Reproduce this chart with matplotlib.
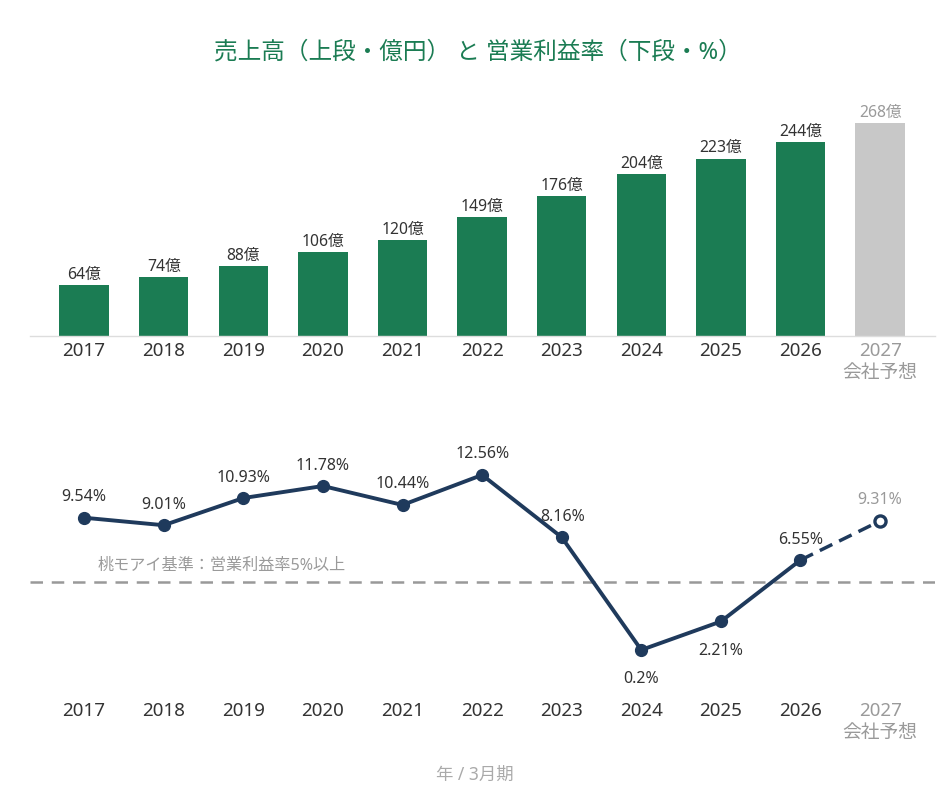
import matplotlib
matplotlib.use("Agg")
import matplotlib.pyplot as plt
import numpy as np

plt.rcParams['font.family'] = ['Noto Sans', 'Noto Sans CJK JP', 'DejaVu Sans']

years = ["2017", "2018", "2019", "2020", "2021", "2022", "2023", "2024", "2025", "2026", "2027"]
forecast_note = "会社予想"
sales = [64, 74, 88, 106, 120, 149, 176, 204, 223, 244, 268]
margin = [9.54, 9.01, 10.93, 11.78, 10.44, 12.56, 8.16, 0.2, 2.21, 6.55, 9.31]
threshold = 5
threshold_label = "桃モアイ基準：営業利益率5%以上"
title = "売上高（上段・億円） と 営業利益率（下段・%）"
xlabel = "年 / 3月期"

GREEN = "#1b7c53"
LGRAY = "#c8c8c8"
NAVY = "#1f3a5c"
TXT = "#333333"
GTXT = "#9a9a9a"

fig = plt.figure(figsize=(9.5, 8), dpi=100)
x = np.arange(len(years))
xlim = (-0.68, len(years) - 1 + 0.69)
L, R = 30 / 950, 935 / 950

# ---- top: bars
ax1 = fig.add_axes([L, 1 - 336 / 800, R - L, (336 - 100) / 800])
colors = [GREEN] * (len(years) - 1) + [LGRAY]
ax1.bar(x, sales, width=0.62, color=colors, zorder=2)
ax1.set_xlim(*xlim)
ax1.set_ylim(0, 296.5)
for i, v in enumerate(sales):
    c = GTXT if i == len(years) - 1 else TXT
    ax1.annotate(f"{v}億", (x[i], v), xytext=(0, 1.5), textcoords="offset points",
                 ha="center", va="bottom", fontsize=11.3, color=c)
for s in ["top", "right", "left"]:
    ax1.spines[s].set_visible(False)
ax1.spines["bottom"].set_color("#dddddd")
ax1.spines["bottom"].set_linewidth(1)
ax1.set_yticks([])
labels = years[:-1] + [years[-1] + "\n" + forecast_note]
ax1.set_xticks(x)
ax1.set_xticklabels(labels, fontsize=13.5, color=TXT, linespacing=1.3)
ax1.get_xticklabels()[-1].set_color(GTXT)
ax1.tick_params(axis="x", length=0, pad=4.5)

# ---- bottom: line
ax2 = fig.add_axes([L, 1 - 690 / 800, R - L, (690 - 440) / 800])
ax2.set_xlim(*xlim)
ax2.set_ylim(-2.63, 15.03)
ax2.axhline(threshold, color="#999999", lw=1.8, ls=(0, (5, 3.5)), zorder=1)
ax2.text(x[0] + 0.17, threshold + 0.55, threshold_label, fontsize=11.6, color=GTXT,
         ha="left", va="bottom")
ax2.plot(x[:-1], margin[:-1], color=NAVY, lw=2.8, marker="o", ms=8.5, zorder=3,
         solid_joinstyle="round")
ax2.plot(x[-2:], margin[-2:], color=NAVY, lw=2.5, ls=(0, (4, 2.2)), zorder=2)
ax2.plot(x[-1:], margin[-1:], marker="o", ms=8, mfc="white", mec=NAVY, mew=2.4,
         ls="none", zorder=4)
below = {7, 8}
for i, v in enumerate(margin):
    c = GTXT if i == len(years) - 1 else TXT
    lab = f"{v:g}%"
    if i in below:
        ax2.annotate(lab, (x[i], v), xytext=(0, -15.5), textcoords="offset points",
                     ha="center", va="top", fontsize=11.5, color=c)
    else:
        dx = 1 if i == 6 else 0
        ax2.annotate(lab, (x[i], v), xytext=(dx, 9), textcoords="offset points",
                     ha="center", va="bottom", fontsize=11.5, color=c)
for s in ["top", "right", "left", "bottom"]:
    ax2.spines[s].set_visible(False)
ax2.set_yticks([])
ax2.set_xticks(x)
ax2.set_xticklabels(labels, fontsize=13.5, color=TXT, linespacing=1.3)
ax2.get_xticklabels()[-1].set_color(GTXT)
ax2.tick_params(axis="x", length=0, pad=9)

fig.text(478 / 950, 1 - 53 / 800, title, ha="center", va="center",
         fontsize=17, color=GREEN)
fig.text(475 / 950, 1 - 775 / 800, xlabel, ha="center", va="center",
         fontsize=12.5, color="#aaaaaa")

fig.savefig("out.png", dpi=100, facecolor="white")
